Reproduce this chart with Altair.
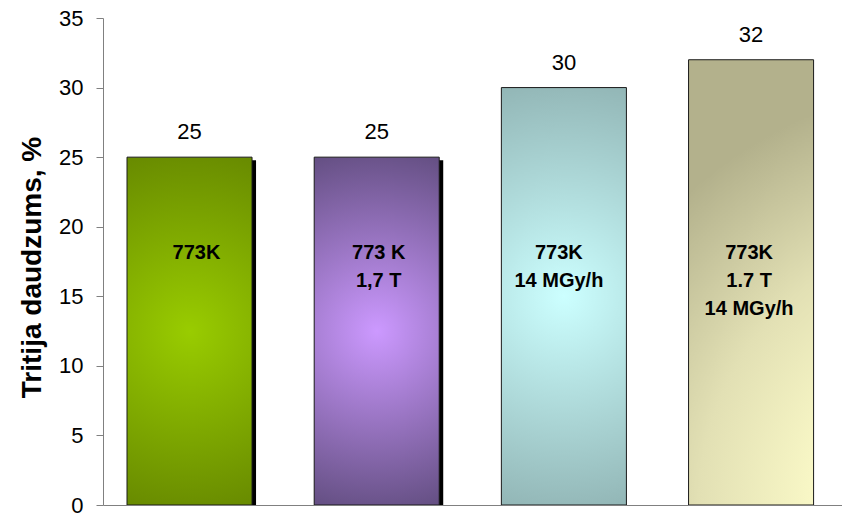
import altair as alt
import pandas as pd

# Conditions (inner bar labels, one line per parameter) and tritium yield in %
conditions = ["773K", "773 K\n1,7 T", "773K\n14 MGy/h", "773K\n1.7 T\n14 MGy/h"]
tritium = [25, 25, 30, 32]
y_ticks = [0, 5, 10, 15, 20, 25, 30, 35]

df = pd.DataFrame({"condition": conditions, "tritium": tritium})

FONT = "Liberation Sans"


def center_fill(inner, outer, r=0.55):
    return alt.RadialGradient(
        gradient="radial",
        x1=0.5, y1=0.5, r1=0,
        x2=0.5, y2=0.5, r2=r,
        stops=[alt.GradientStop(offset=0, color=inner),
               alt.GradientStop(offset=1, color=outer)],
    )


def corner_fill(colors, offsets):
    return alt.RadialGradient(
        gradient="radial",
        x1=1, y1=1, r1=0,
        x2=1, y2=1, r2=0.95,
        stops=[alt.GradientStop(offset=o, color=c) for c, o in zip(colors, offsets)],
    )


# Per-bar styling: fill, whether it casts a shadow, inner label nudge
bar_styles = [
    dict(fill=center_fill("#99CC00", "#668800"), shadow=True, dx=7),
    dict(fill=center_fill("#CC99FF", "#604C7E"), shadow=True, dx=2),
    dict(fill=center_fill("#CCFFFF", "#8FB2B2"), shadow=False, dx=-5),
    dict(fill=corner_fill(["#FFFFCC", "#FBFAC8", "#E2E0B4", "#B3B18C"],
                          [0, 0.35, 0.65, 1]), shadow=False, dx=-2),
]

x_enc = alt.X(
    "condition:N",
    sort=conditions,
    scale=alt.Scale(paddingInner=0.332, paddingOuter=0.14, align=0.458),
    axis=alt.Axis(title=None, labels=False, ticks=False,
                  domainColor="#808080", domainWidth=1, zindex=1),
)
y_enc = alt.Y(
    "tritium:Q",
    scale=alt.Scale(domain=[0, 35], nice=False, zero=True),
    axis=alt.Axis(
        values=y_ticks,
        grid=False,
        title="Tritija daudzums, %",
        titleFont=FONT,
        titleFontSize=28,
        titleFontWeight="bold",
        titleColor="#000000",
        titleX=-71,
        titleY=249,
        titleBaseline="middle",
        titleAlign="center",
        titleAngle=270,
        labelFont=FONT,
        labelFontSize=22,
        labelColor="#000000",
        labelPadding=13,
        tickSize=7,
        tickColor="#808080",
        domainColor="#808080",
        domainWidth=1,
    ),
)

base = alt.Chart(df)
layers = []

for cond, st in zip(conditions, bar_styles):
    one = base.transform_filter(alt.FieldEqualPredicate(field="condition", equal=cond))
    if st["shadow"]:
        # drop shadow to the lower right, clipped at the baseline
        layers.append(
            one.mark_bar(color="#000000", xOffset=4, yOffset=3, clip=True)
            .encode(x=x_enc, y=y_enc)
        )
    layers.append(
        one.mark_bar(fill=st["fill"], stroke="#1a1a1a", strokeWidth=1)
        .encode(x=x_enc, y=y_enc)
    )
    layers.append(
        one.mark_text(
            font=FONT, fontSize=20, fontWeight="bold", color="#000000",
            baseline="top", align="center", lineBreak="\n", lineHeight=28,
            dx=st["dx"],
        ).encode(x=x_enc, y=alt.datum(18.8), text="condition:N")
    )

# Value labels above the bars
layers.append(
    base.mark_text(
        font=FONT, fontSize=22, color="#000000",
        baseline="alphabetic", align="center", dy=-18,
    ).encode(x=x_enc, y=y_enc, text="tritium:Q")
)

chart = (
    alt.layer(*layers)
    .properties(
        width=739,
        height=487,
        padding={"left": 103, "top": 18, "right": 0, "bottom": 10},
        autosize=alt.AutoSizeParams(type="none"),
        background="#ffffff",
    )
    .configure_view(stroke=None)
)

chart.save("out.html", embed_options={"renderer": "svg", "actions": False})
